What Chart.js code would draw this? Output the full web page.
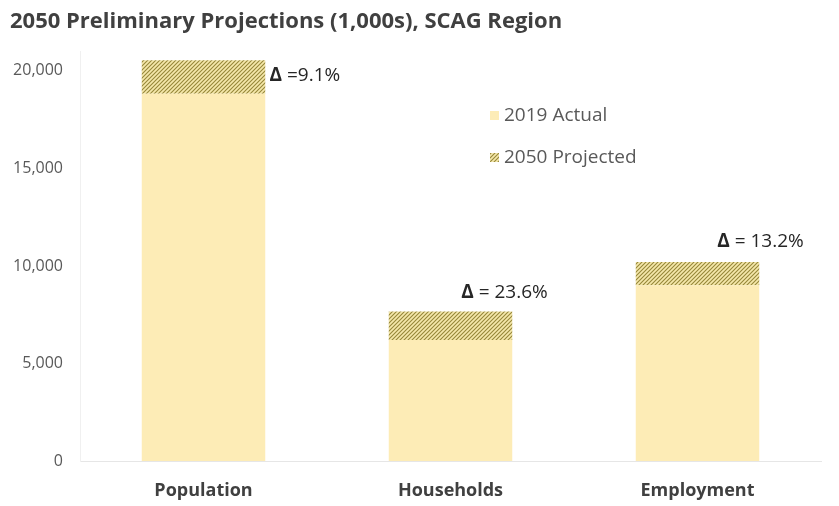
<!DOCTYPE html>
<html>
<head>
<meta charset="utf-8">
<script src="https://cdn.jsdelivr.net/npm/chart.js@4/dist/chart.umd.min.js"></script>
<style>
  html, body { margin: 0; padding: 0; background: #fff; }
  #wrap { width: 839px; height: 506px; }
</style>
</head>
<body>
<div id="wrap"><canvas id="proj-chart"></canvas></div>
<script>
// values in thousands
const categories = ["Population", "Households", "Employment"];
const actual2019 = [18830, 6200, 9010];
const growthTo2050 = [1710, 1465, 1190];
const yTicks = [0, 5000, 10000, 15000, 20000];

const FONT = "'Open Sans', 'Noto Sans', sans-serif";

// diagonal hatch fill for the projected growth
function makeHatch() {
  const size = 4;
  const c = document.createElement("canvas");
  c.width = size;
  c.height = size;
  const g = c.getContext("2d");
  g.fillStyle = "#f5e8ab";
  g.fillRect(0, 0, size, size);
  g.strokeStyle = "#968739";
  g.lineWidth = 1.1;
  g.beginPath();
  g.moveTo(-1, size + 1);
  g.lineTo(size + 1, -1);
  g.moveTo(-1, 1);
  g.lineTo(1, -1);
  g.moveTo(size - 1, size + 1);
  g.lineTo(size + 1, size - 1);
  g.stroke();
  return g.createPattern(c, "repeat");
}

const ctx = document.getElementById("proj-chart").getContext("2d");
const hatch = makeHatch();

// growth labels above / beside each stack
const deltaLabels = {
  id: "deltaLabels",
  afterDatasetsDraw(chart) {
    const c = chart.ctx;
    const meta = chart.getDatasetMeta(1);
    const place = [
      { dx: 66, dy: 15, align: "left" },
      { dx: 54, dy: -19, align: "center" },
      { dx: 63, dy: -20, align: "center" },
    ];
    meta.data.forEach((bar, i) => {
      const pct = ((growthTo2050[i] / actual2019[i]) * 100).toFixed(1);
      const rest = (i === 0 ? " =" : " = ") + pct + "%";
      c.save();
      c.textBaseline = "middle";
      c.fillStyle = "#262626";
      c.font = "bold 19px " + FONT;
      const wD = c.measureText("Δ").width;
      c.font = "19px " + FONT;
      const wR = c.measureText(rest).width;
      const p = place[i];
      let x = bar.x + p.dx;
      if (p.align === "center") x -= (wD + wR) / 2;
      const y = bar.y + p.dy;
      c.font = "bold 19px " + FONT;
      c.textAlign = "left";
      c.fillText("Δ", x, y);
      c.font = "19px " + FONT;
      c.fillText(rest, x + wD, y);
      c.restore();
    });
  },
};

// legend drawn inside the plot area
const innerLegend = {
  id: "innerLegend",
  afterDraw(chart) {
    const c = chart.ctx;
    const items = chart.data.datasets.map((ds) => ({ text: ds.label, fill: ds.backgroundColor }));
    const x0 = 504;
    const ys = [116, 158];
    c.save();
    items.forEach((it, i) => {
      c.fillStyle = it.fill;
      c.fillRect(x0 - 14, ys[i] - 5, 9, 9);
      c.fillStyle = "#595959";
      c.font = "19px " + FONT;
      c.textBaseline = "middle";
      c.textAlign = "left";
      c.fillText(it.text, x0, ys[i]);
    });
    c.restore();
  },
};

new Chart(ctx, {
  type: "bar",
  data: {
    labels: categories,
    datasets: [
      {
        label: "2019 Actual",
        data: actual2019,
        backgroundColor: "#fdecb6",
        borderWidth: 0,
        barPercentage: 0.5,
        categoryPercentage: 1,
      },
      {
        label: "2050 Projected",
        data: growthTo2050,
        backgroundColor: hatch,
        borderWidth: 0,
        barPercentage: 0.5,
        categoryPercentage: 1,
      },
    ],
  },
  options: {
    responsive: true,
    maintainAspectRatio: false,
    animation: false,
    layout: { padding: { left: 10, right: 18, top: 0, bottom: 0 } },
    plugins: {
      legend: { display: false },
      tooltip: { enabled: false },
      title: {
        display: true,
        text: "2050 Preliminary Projections (1,000s), SCAG Region",
        align: "start",
        color: "#404040",
        font: { family: FONT, size: 22, weight: "bold" },
        padding: { top: 9, bottom: 16 },
      },
    },
    scales: {
      x: {
        stacked: true,
        grid: { display: false, drawTicks: false },
        border: { display: true, color: "#e6e6e6", width: 1 },
        ticks: {
          color: "#404040",
          padding: 19,
          font: { family: FONT, size: 18, weight: "bold" },
        },
        afterFit(scale) {
          scale.height = 45;
        },
      },
      y: {
        stacked: true,
        min: 0,
        max: 21000,
        grid: { display: false, drawTicks: false },
        border: { display: true, color: "#f0f0f0", width: 1 },
        ticks: {
          color: "#595959",
          padding: 17,
          font: { family: FONT, size: 16 },
          callback: (v) => v.toLocaleString("en-US"),
        },
        afterBuildTicks(scale) {
          scale.ticks = yTicks.map((v) => ({ value: v }));
        },
        afterFit(scale) {
          scale.width = 70;
        },
      },
    },
  },
  plugins: [deltaLabels, innerLegend],
});
</script>
</body>
</html>
